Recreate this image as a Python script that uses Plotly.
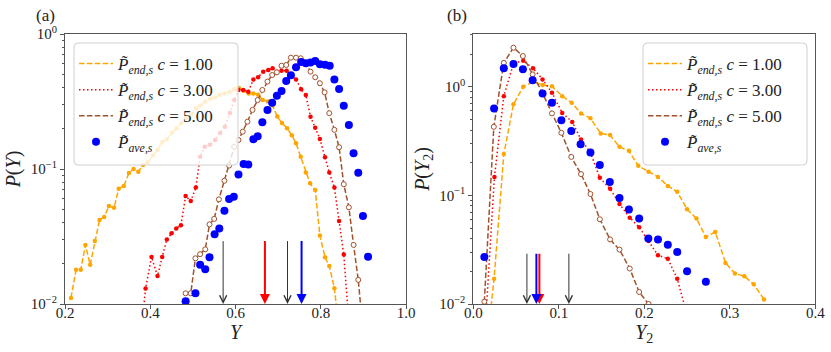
import numpy as np
import plotly.graph_objects as go

# ---- panel (a): distribution of Y ----
ya_c1 = [0.214, 0.226, 0.237, 0.248, 0.259, 0.270, 0.281, 0.292, 0.303, 0.315, 0.326, 0.338,
         0.350, 0.361, 0.372, 0.383, 0.394, 0.406, 0.417, 0.428, 0.439, 0.451, 0.462, 0.473,
         0.484, 0.496, 0.507, 0.518, 0.529, 0.541, 0.552, 0.563, 0.574, 0.586, 0.597, 0.608,
         0.619, 0.631, 0.642, 0.653, 0.664, 0.676, 0.687, 0.698, 0.709, 0.721, 0.732, 0.742,
         0.753, 0.765, 0.775, 0.787, 0.798, 0.810, 0.820, 0.832, 0.843]
pa_c1 = [0.0111, 0.0179, 0.0179, 0.0274, 0.0195, 0.0293, 0.0419, 0.0441, 0.0532, 0.0516, 0.0715, 0.0748,
         0.0933, 0.100, 0.0955, 0.107, 0.112, 0.126, 0.138, 0.158, 0.166, 0.186, 0.200, 0.219,
         0.240, 0.251, 0.282, 0.295, 0.316, 0.331, 0.339, 0.355, 0.363, 0.372, 0.389, 0.398,
         0.380, 0.363, 0.363, 0.355, 0.324, 0.316, 0.295, 0.245, 0.219, 0.200, 0.178, 0.155,
         0.123, 0.0944, 0.0783, 0.0698, 0.0321, 0.0222, 0.0191, 0.0131, 0.0063]

ya_c3 = [0.378, 0.389, 0.403, 0.417, 0.428, 0.439, 0.450, 0.461, 0.472, 0.483, 0.495, 0.507,
         0.517, 0.528, 0.540, 0.552, 0.564, 0.575, 0.587, 0.597, 0.607, 0.618, 0.630, 0.642,
         0.653, 0.665, 0.677, 0.687, 0.698, 0.708, 0.720, 0.731, 0.742, 0.754, 0.765, 0.776,
         0.787, 0.798, 0.810, 0.820, 0.832, 0.843, 0.854, 0.865]
pa_c3 = [0.006, 0.0130, 0.0223, 0.0161, 0.0223, 0.0301, 0.0334, 0.0363, 0.0383, 0.0631, 0.0579, 0.0728,
         0.123, 0.146, 0.151, 0.164, 0.185, 0.206, 0.260, 0.324, 0.385, 0.385, 0.374, 0.461,
         0.478, 0.526, 0.541, 0.557, 0.526, 0.535, 0.535, 0.490, 0.461, 0.389, 0.353, 0.244,
         0.202, 0.167, 0.122, 0.0944, 0.0728, 0.0412, 0.0233, 0.0079]

ya_c5 = [0.483, 0.495, 0.506, 0.517, 0.529, 0.539, 0.550, 0.561, 0.574, 0.585, 0.597, 0.607,
         0.617, 0.628, 0.640, 0.652, 0.663, 0.675, 0.686, 0.697, 0.708, 0.719, 0.730, 0.742,
         0.753, 0.765, 0.776, 0.787, 0.798, 0.809, 0.820, 0.832, 0.843, 0.854, 0.866, 0.877,
         0.888, 0.899]
pa_c5 = [0.0120, 0.0120, 0.0218, 0.0234, 0.0254, 0.0389, 0.0427, 0.0596, 0.0818, 0.106, 0.146, 0.164,
         0.189, 0.224, 0.274, 0.324, 0.385, 0.444, 0.497, 0.520, 0.582, 0.589, 0.668, 0.668,
         0.661, 0.607, 0.526, 0.478, 0.432, 0.370, 0.259, 0.195, 0.145, 0.0771, 0.0520, 0.0274,
         0.0151, 0.0063]

ya_ave = [0.483, 0.506, 0.517, 0.529, 0.539, 0.551, 0.562, 0.574, 0.585, 0.596, 0.607, 0.619,
          0.630, 0.642, 0.652, 0.663, 0.675, 0.686, 0.697, 0.708, 0.719, 0.730, 0.742, 0.754,
          0.765, 0.776, 0.787, 0.798, 0.810, 0.821, 0.832, 0.843, 0.854, 0.866, 0.877, 0.888,
          0.899, 0.911]
pa_ave = [0.0105, 0.0120, 0.0195, 0.0181, 0.0222, 0.0328, 0.0363, 0.0491, 0.0600, 0.0624, 0.0912, 0.109,
          0.108, 0.166, 0.175, 0.222, 0.274, 0.310, 0.349, 0.378, 0.449, 0.494, 0.566, 0.621,
          0.607, 0.614, 0.632, 0.596, 0.592, 0.582, 0.461, 0.392, 0.294, 0.212, 0.131, 0.0940,
          0.0449, 0.0224]

# ---- panel (b): distribution of Y2 ----
yb_c1 = [0.0129, 0.0243, 0.0357, 0.047, 0.0584, 0.0699, 0.081, 0.092, 0.104, 0.115, 0.126, 0.137,
         0.149, 0.160, 0.171, 0.182, 0.193, 0.205, 0.216, 0.2275, 0.2385, 0.250, 0.261, 0.272,
         0.283, 0.295, 0.306, 0.317, 0.328, 0.340]
pb_c1 = [0.0025, 0.0171, 0.240, 0.692, 1.00, 1.11, 1.04, 1.01, 0.820, 0.713, 0.569, 0.512,
         0.372, 0.359, 0.280, 0.257, 0.187, 0.165, 0.148, 0.122, 0.108, 0.0746, 0.0612, 0.0414,
         0.0461, 0.0239, 0.0191, 0.0180, 0.0152, 0.0110]

yb_c3 = [0.0133, 0.0247, 0.0357, 0.047, 0.0584, 0.0699, 0.081, 0.092, 0.104, 0.1157, 0.126, 0.137,
         0.148, 0.160, 0.171, 0.183, 0.194, 0.205, 0.216, 0.2275, 0.2385, 0.250]
pb_c3 = [0.005, 0.148, 0.820, 1.64, 1.74, 1.48, 1.17, 0.881, 0.575, 0.475, 0.327, 0.248,
         0.145, 0.115, 0.0832, 0.0624, 0.0509, 0.0380, 0.0281, 0.0261, 0.0171, 0.0079]

yb_c5 = [0.0129, 0.024, 0.0357, 0.047, 0.058, 0.0694, 0.0808, 0.092, 0.103, 0.1146, 0.126, 0.137,
         0.148, 0.160, 0.171, 0.183, 0.194, 0.205]
pb_c5 = [0.0105, 0.428, 1.66, 2.29, 1.92, 1.30, 0.881, 0.569, 0.377, 0.226, 0.157, 0.103,
         0.0603, 0.0393, 0.0317, 0.0212, 0.0129, 0.0100]

yb_ave = [0.0129, 0.0243, 0.0357, 0.047, 0.058, 0.0694, 0.081, 0.092, 0.103, 0.1146, 0.1255, 0.137,
          0.148, 0.1597, 0.171, 0.182, 0.194, 0.2047, 0.216, 0.2275, 0.2385, 0.250, 0.272]
pb_ave = [0.0271, 0.631, 1.48, 1.62, 1.45, 1.15, 0.869, 0.713, 0.493, 0.391, 0.296, 0.248,
          0.190, 0.133, 0.0948, 0.0741, 0.0612, 0.0401, 0.0393, 0.0352, 0.0301, 0.0200, 0.0160]

# arrows (x position, colour)
arrows_a = [(0.571, 'black'), (0.669, 'red'), (0.722, 'black'), (0.755, 'blue')]
arrows_b = [(0.0627, 'black'), (0.0773, 'red'), (0.0738, 'blue'), (0.1118, 'black')]
arrow_top = 0.03
arrow_tip = 0.01

xticks_a = [0.2, 0.4, 0.6, 0.8, 1.0]
xticks_b = [0.0, 0.1, 0.2, 0.3, 0.4]

legend_names = ['<i>P̃</i><sub><i>end,s</i></sub> <i>c</i> = 1.00',
                '<i>P̃</i><sub><i>end,s</i></sub> <i>c</i> = 3.00',
                '<i>P̃</i><sub><i>end,s</i></sub> <i>c</i> = 5.00',
                '<i>P̃</i><sub><i>ave,s</i></sub>']

ORANGE = '#ffa500'
RED = '#ff0000'
BROWN = '#a0522d'
BLUE = '#0000ff'
FONT = 'Liberation Serif'
W, H = 831, 352

fig = go.Figure()


def add_panel(xa, ya, leg, data):
    (x1, p1), (x3, p3), (x5, p5), (xv, pv) = data
    styles = [
        (x1, p1, ORANGE, '5.5px,2.4px', dict(size=4.5, color=ORANGE)),
        (x3, p3, RED, '1.5px,2.5px', dict(size=4.5, color=RED)),
        (x5, p5, BROWN, '5.5px,2.4px', dict(size=5, color='white', line=dict(color=BROWN, width=1))),
    ]
    for i, (x, p, col, dash, mk) in enumerate(styles):
        fig.add_trace(go.Scatter(x=x, y=p, mode='lines', name=legend_names[i],
                                 line=dict(color=col, width=1.5, dash=dash),
                                 xaxis=xa, yaxis=ya, legend=leg, legendgroup=leg + str(i)))
        fig.add_trace(go.Scatter(x=x, y=p, mode='markers', marker=mk, showlegend=False,
                                 xaxis=xa, yaxis=ya))
    fig.add_trace(go.Scatter(x=xv, y=pv, mode='markers', name=legend_names[3],
                             marker=dict(size=8, color=BLUE),
                             xaxis=xa, yaxis=ya, legend=leg, legendgroup=leg + '3'))


add_panel('x', 'y', 'legend', [(ya_c1, pa_c1), (ya_c3, pa_c3), (ya_c5, pa_c5), (ya_ave, pa_ave)])
add_panel('x2', 'y2', 'legend2', [(yb_c1, pb_c1), (yb_c3, pb_c3), (yb_c5, pb_c5), (yb_ave, pb_ave)])

# empty traces so the label-only x axes (x3, x4) get drawn
fig.add_trace(go.Scatter(x=[], y=[], xaxis='x3', yaxis='y', showlegend=False, hoverinfo='skip'))
fig.add_trace(go.Scatter(x=[], y=[], xaxis='x4', yaxis='y2', showlegend=False, hoverinfo='skip'))

# arrows
for xref, yref, arrows in [('x', 'y', arrows_a), ('x2', 'y2', arrows_b)]:
    for xv, col in arrows:
        if col == 'black':
            kw = dict(arrowcolor='#333333', arrowwidth=1, arrowhead=5, arrowsize=1.4)
        else:
            kw = dict(arrowcolor=RED if col == 'red' else BLUE, arrowwidth=2, arrowhead=2, arrowsize=1.0)
        fig.add_annotation(x=xv, y=np.log10(arrow_tip), ax=xv, ay=np.log10(arrow_top),
                           xref=xref, yref=yref, axref=xref, ayref=yref,
                           text='', showarrow=True, standoff=0, startstandoff=0, **kw)

# panel labels
for lbl, px in [('(a)', 45), ('(b)', 457)]:
    fig.add_annotation(text=lbl, x=px / W, y=1 - 16 / H, xref='paper', yref='paper',
                       xanchor='center', yanchor='middle', showarrow=False,
                       font=dict(size=17, family=FONT, color='#222'))


# legend frames (rounded, semi-transparent like matplotlib)
def rounded_box(x0, y0, x1, y1, r=4):
    X = lambda v: v / W
    Y = lambda v: 1 - v / H
    return (f"M {X(x0 + r)},{Y(y0)} L {X(x1 - r)},{Y(y0)} Q {X(x1)},{Y(y0)} {X(x1)},{Y(y0 + r)} "
            f"L {X(x1)},{Y(y1 - r)} Q {X(x1)},{Y(y1)} {X(x1 - r)},{Y(y1)} "
            f"L {X(x0 + r)},{Y(y1)} Q {X(x0)},{Y(y1)} {X(x0)},{Y(y1 - r)} "
            f"L {X(x0)},{Y(y0 + r)} Q {X(x0)},{Y(y0)} {X(x0 + r)},{Y(y0)} Z")


for bx in (74, 643):
    fig.add_shape(type='path', path=rounded_box(bx, 43, bx + 164, 165), xref='paper', yref='paper',
                  fillcolor='rgba(255,255,255,0.8)', line=dict(color='#d0d0d0', width=1), layer='above')

minor_a = [k * 10.0 ** e for e in (-2, -1) for k in range(2, 10)]
minor_b = minor_a + [2.0, 3.0]

axis_common = dict(showline=True, mirror=True, linecolor='#555', linewidth=1, ticks='outside',
                   ticklen=4, tickcolor='#555', showgrid=False, zeroline=False, automargin=False,
                   tickfont=dict(size=15, family=FONT, color='#222'))
# tick-label-only axes laid over the bottom axes (labels sit closer to the frame)
label_axis = dict(anchor='free', position=1 - 302 / H, side='bottom', showline=False, ticks='',
                  showgrid=False, zeroline=False, automargin=False,
                  tickfont=dict(size=15, family=FONT, color='#222'))

ydom = [1 - 304 / H, 1 - 34 / H]
legend_common = dict(xanchor='left', yanchor='top', bgcolor='rgba(0,0,0,0)', borderwidth=0,
                     font=dict(size=17, family=FONT, color='#222'), itemwidth=34, tracegroupgap=1)
fig.update_layout(
    width=W, height=H,
    margin=dict(l=0, r=0, t=0, b=0),
    paper_bgcolor='white', plot_bgcolor='white',
    font=dict(family=FONT, color='#222'),
    xaxis=dict(domain=[65 / W, 406 / W], range=[0.2, 1.0], anchor='y', tickvals=xticks_a,
               showticklabels=False, **axis_common),
    xaxis3=dict(domain=[65 / W, 406 / W], range=[0.2, 1.0], overlaying='x', tickvals=xticks_a,
                ticktext=[f'{v:.1f}' for v in xticks_a],
                title=dict(text='<i>Y</i>', font=dict(size=20, family=FONT), standoff=0), **label_axis),
    yaxis=dict(domain=ydom, type='log', range=[-2, 0], anchor='x',
               tickvals=[0.01, 0.1, 1], ticktext=['10<sup>−2</sup>', '10<sup>−1</sup>', '10<sup>0</sup>'],
               minor=dict(tickvals=minor_a, ticks='outside', ticklen=2, tickcolor='#555'),
               title=dict(text='<i>P</i>(<i>Y</i>)', font=dict(size=20, family=FONT), standoff=4),
               **axis_common),
    xaxis2=dict(domain=[473.3 / W, 815.3 / W], range=[0.0, 0.4], anchor='y2', tickvals=xticks_b,
                showticklabels=False, **axis_common),
    xaxis4=dict(domain=[473.3 / W, 815.3 / W], range=[0.0, 0.4], overlaying='x2', tickvals=xticks_b,
                ticktext=[f'{v:.1f}' for v in xticks_b],
                title=dict(text='<i>Y</i><sub>2</sub>', font=dict(size=20, family=FONT), standoff=0),
                **label_axis),
    yaxis2=dict(domain=ydom, type='log', range=[-2, 0.486], anchor='x2',
                tickvals=[0.01, 0.1, 1], ticktext=['10<sup>−2</sup>', '10<sup>−1</sup>', '10<sup>0</sup>'],
                minor=dict(tickvals=minor_b, ticks='outside', ticklen=2, tickcolor='#555'),
                title=dict(text='<i>P</i>(<i>Y</i><sub>2</sub>)', font=dict(size=20, family=FONT), standoff=4),
                **axis_common),
    legend=dict(x=74 / W, y=1 - 46 / H, **legend_common),
    legend2=dict(x=643 / W, y=1 - 46 / H, **legend_common),
)

fig.write_html("out.html", config={'displayModeBar': False},
               post_script="document.body.style.margin='0';")
